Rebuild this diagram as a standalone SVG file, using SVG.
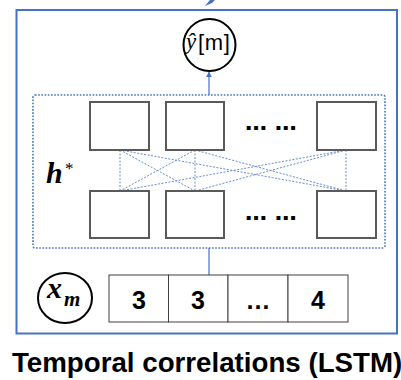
<svg xmlns="http://www.w3.org/2000/svg" width="401" height="380" viewBox="0 0 401 380">
  <defs>
    <marker id="arrow" viewBox="0 0 10 10" refX="9" refY="5" markerWidth="5" markerHeight="5" orient="auto-start-reverse">
      <path d="M0,0 L10,5 L0,10 z" fill="#4472C4"/>
    </marker>
    <style>
      .frame { fill: none; stroke: #4472C4; stroke-width: 2; }
      .dotted { fill: none; stroke: #4472C4; stroke-width: 1.6; stroke-dasharray: 1.6 1.6; }
      .cell { fill: #fff; stroke: #5a5a5a; stroke-width: 2; }
      .arr { fill: #fff; stroke: #404040; stroke-width: 1; }
      .link { stroke: #4472C4; stroke-width: 1.2; fill: none; }
      .mesh { stroke: #4472C4; stroke-width: 1; stroke-dasharray: 2 1.5; opacity: 0.8; }
      .node { fill: #fff; stroke: #000; stroke-width: 2; }
      .num { font-family: "Liberation Sans", Arial, sans-serif; font-weight: bold; font-size: 25px; fill: #000; text-anchor: middle; }
      .dots { font-family: "DejaVu Sans", sans-serif; font-weight: bold; font-size: 22px; fill: #000; }
      .math { font-family: "Liberation Serif", "DejaVu Serif", serif; font-style: italic; fill: #000; }
    </style>
  </defs>

  <!-- outer LSTM frame -->
  <rect class="frame" x="16.5" y="10" width="380.5" height="323.5"/>
  <polygon points="205,6 210,0 215,0 212,3" fill="#4472C4"/>

  <!-- connectors -->
  <g id="connectors">
    <line class="link" x1="209" y1="95" x2="209" y2="72" marker-end="url(#arrow)"/>
    <line class="link" x1="209" y1="248" x2="209" y2="275"/>
    <g class="mesh">
      <line x1="120" y1="150" x2="120" y2="191"/>
      <line x1="195" y1="150" x2="195" y2="191"/>
      <line x1="346" y1="150" x2="346" y2="191"/>
      <line x1="120" y1="150" x2="195" y2="191"/>
      <line x1="120" y1="150" x2="346" y2="191"/>
      <line x1="195" y1="150" x2="120" y2="191"/>
      <line x1="195" y1="150" x2="346" y2="191"/>
      <line x1="346" y1="150" x2="120" y2="191"/>
      <line x1="346" y1="150" x2="195" y2="191"/>
    </g>
  </g>

  <!-- hidden layer region -->
  <g id="hidden-layer">
    <rect class="dotted" x="33" y="95" width="352" height="153" rx="2"/>
    <text x="46" y="183" class="math" font-weight="bold" font-size="30">h</text>
    <text x="65" y="174" font-family="Liberation Serif, serif" font-size="17" fill="#000">*</text>
  </g>

  <g id="top-row">
    <rect class="cell" x="90" y="102" width="59" height="48"/>
    <rect class="cell" x="166" y="102" width="58" height="48"/>
    <rect class="cell" x="317" y="102" width="59" height="48"/>
    <text class="dots" x="245" y="130">… …</text>
  </g>

  <g id="bottom-row">
    <rect class="cell" x="90" y="191" width="59" height="47"/>
    <rect class="cell" x="166" y="191" width="58" height="47"/>
    <rect class="cell" x="317" y="191" width="59" height="47"/>
    <text class="dots" x="245" y="220">… …</text>
  </g>

  <!-- output node -->
  <g id="output">
    <circle class="node" cx="209.5" cy="45" r="26"/>
    <text x="186" y="49" class="math" font-size="23">ŷ</text>
    <text x="198" y="50" font-family="Liberation Sans, Arial, sans-serif" font-size="22" letter-spacing="0.6" fill="#000">[m]</text>
  </g>

  <!-- input node -->
  <g id="input">
    <ellipse class="node" cx="65" cy="298" rx="27" ry="25"/>
    <text x="47" y="298" class="math" font-weight="bold" font-size="30">x</text>
    <text x="64" y="306" class="math" font-weight="bold" font-size="21">m</text>
  </g>

  <!-- input sequence -->
  <g id="sequence">
    <rect class="arr" x="109" y="275" width="59.5" height="47"/>
    <rect class="arr" x="168.5" y="275" width="59.5" height="47"/>
    <rect class="arr" x="228" y="275" width="60" height="47"/>
    <rect class="arr" x="288" y="275" width="60" height="47"/>
    <text class="num" x="139" y="309">3</text>
    <text class="num" x="198" y="309">3</text>
    <text class="num" x="258" y="309">…</text>
    <text class="num" x="318" y="309">4</text>
  </g>

  <text x="12" y="372" font-family="Liberation Sans, Arial, sans-serif" font-weight="bold" font-size="27.7" fill="#000">Temporal correlations (LSTM)</text>
</svg>
